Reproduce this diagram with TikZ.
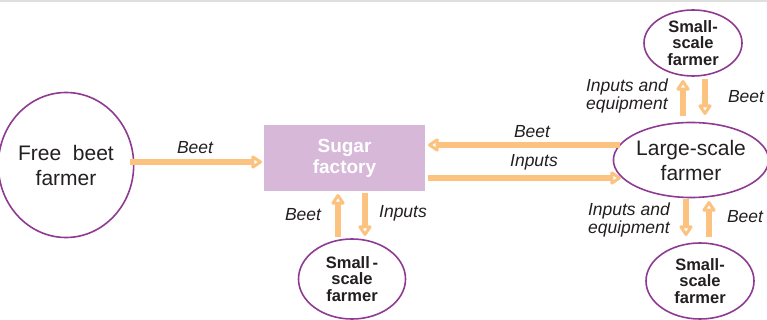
\documentclass[tikz,border=0pt]{standalone}
\usepackage{fontspec}
\setmainfont{Liberation Sans}
\usetikzlibrary{arrows.meta,shapes.geometric}
\definecolor{arr}{HTML}{FCC27F}
\definecolor{purp}{HTML}{8E3A92}
\definecolor{txt}{HTML}{231F20}
\definecolor{fac}{HTML}{D8B8D8}
\tikzset{
  farmer/.style={ellipse, draw=purp, line width=1.6pt, text=txt, align=center, inner sep=0pt},
  big/.style={farmer, font=\fontsize{21}{25}\selectfont},
  small/.style={farmer, font=\fontsize{16.5}{16.5}\selectfont\bfseries},
  flow/.style={draw=arr, line width=5.3pt, -{Triangle[open, length=12pt, width=15pt, round, line width=3.5pt]}},
  lbl/.style={text=txt, font=\fontsize{17.5}{15.5}\selectfont\itshape, inner sep=0pt},
}
\begin{document}
\begin{tikzpicture}[x=1pt,y=-1pt]
\useasboundingbox (0,0) rectangle (767,320);
\fill[gray!25] (0,0) rectangle (767,1.8);
% nodes
\node[big, minimum width=124pt, minimum height=145pt] (free) at (66,165) {Free\ \ beet\\farmer};
\node[rectangle, fill=fac, minimum width=161pt, minimum height=66pt, text=white,
      font=\fontsize{19}{21}\selectfont\bfseries, align=center] (sf) at (344.5,158) {Sugar\\factory};
\node[big, minimum width=143pt, minimum height=75pt] (large) at (691,160) {Large-scale\\farmer};
\node[small, minimum width=98pt, minimum height=66pt] (top) at (693,43) {Small-\\scale\\farmer};
\node[small, minimum width=108pt, minimum height=76pt] (br) at (700,281) {Small-\\scale\\farmer};
\node[small, minimum width=107pt, minimum height=80pt] (bc) at (352,279) {Small\,-\\scale\\farmer};
% coordinates
\coordinate (a1) at (130,162); \coordinate (a2) at (262,162);
\coordinate (b1) at (620,145); \coordinate (b2) at (428,145);
\coordinate (c1) at (428,178); \coordinate (c2) at (621,178);
\coordinate (d1) at (683,116); \coordinate (d2) at (683,80);
\coordinate (e1) at (705,79);  \coordinate (e2) at (705,115);
\coordinate (f1) at (686,199); \coordinate (f2) at (686,236);
\coordinate (g1) at (709,237); \coordinate (g2) at (709,201);
\coordinate (h1) at (338,237); \coordinate (h2) at (338,194);
\coordinate (i1) at (365,193); \coordinate (i2) at (365,236);
% arrows
\draw[flow] (a1) -- (a2);
\draw[flow] (b1) -- (b2);
\draw[flow] (c1) -- (c2);
\draw[flow] (d1) -- (d2);
\draw[flow] (e1) -- (e2);
\draw[flow] (f1) -- (f2);
\draw[flow] (g1) -- (g2);
\draw[flow] (h1) -- (h2);
\draw[flow] (i1) -- (i2);
% labels
\node[lbl] (l1) at (195,148) {Beet};
\node[lbl] (l2) at (532,132) {Beet};
\node[lbl] (l3) at (534,162) {Inputs};
\node[lbl, align=right, anchor=east] (l4) at (668,96) {Inputs and\\equipment};
\node[lbl] (l5) at (746,97) {Beet};
\node[lbl, align=right, anchor=east] (l6) at (670,220) {Inputs and\\equipment};
\node[lbl] (l7) at (745,217) {Beet};
\node[lbl] (l8) at (303,215) {Beet};
\node[lbl] (l9) at (403,213) {Inputs};
\end{tikzpicture}
\end{document}
